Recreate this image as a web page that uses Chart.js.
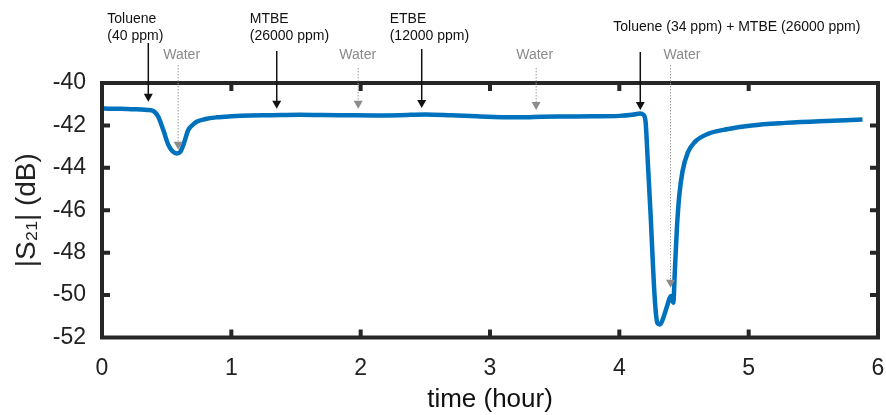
<!DOCTYPE html>
<html>
<head>
<meta charset="utf-8">
<script src="https://cdn.jsdelivr.net/npm/chart.js@4.4.1/dist/chart.umd.min.js"></script>
<style>
html,body{margin:0;padding:0;background:#ffffff;}
#wrap{width:886px;height:415px;position:relative;}
</style>
</head>
<body>
<div id="wrap"><canvas id="c" width="886" height="415"></canvas></div>
<script>
// ---------- data ----------
const timeHours = [
  0.00, 0.05, 0.10, 0.15, 0.20, 0.25, 0.30, 0.35, 0.40, 0.435,
  0.474, 0.513, 0.545, 0.578, 0.605, 0.629, 0.667, 0.70, 0.732, 0.80,
  0.887, 1.00, 1.144, 1.30, 1.531, 1.70, 1.90, 2.10, 2.30, 2.50,
  2.70, 2.90, 3.10, 3.25, 3.40, 3.60, 3.80, 4.00, 4.10, 4.16,
  4.186, 4.203, 4.221, 4.242, 4.26, 4.276, 4.294, 4.314, 4.345, 4.373,
  4.398, 4.417, 4.43, 4.445, 4.464, 4.489, 4.529, 4.581, 4.685, 4.842,
  5.024, 5.285, 5.546, 5.75, 5.88
];
const s21dB = [
  -41.20, -41.21, -41.22, -41.22, -41.23, -41.24, -41.25, -41.27, -41.33, -41.59,
  -42.22, -42.92, -43.22, -43.32, -43.25, -42.92, -42.22, -41.98, -41.83, -41.70,
  -41.62, -41.57, -41.53, -41.52, -41.50, -41.51, -41.52, -41.53, -41.52, -41.48,
  -41.52, -41.57, -41.61, -41.62, -41.59, -41.58, -41.57, -41.55, -41.50, -41.44,
  -41.50, -41.84, -43.83, -46.22, -48.61, -50.36, -51.31, -51.39, -50.99, -50.44,
  -50.04, -50.36, -48.77, -46.86, -45.27, -44.15, -43.28, -42.80, -42.40, -42.17,
  -42.00, -41.88, -41.80, -41.76, -41.72
];
const xTickValues = [0, 1, 2, 3, 4, 5, 6];
const yTickValues = [-40, -42, -44, -46, -48, -50, -52];

// annotations: injected substances (black arrows) and water (grey dotted arrows)
const chemLabels = [["Toluene", "(40 ppm)"], ["MTBE", "(26000 ppm)"], ["ETBE", "(12000 ppm)"], ["Toluene (34 ppm) + MTBE (26000 ppm)"]];
const chemTimes = [0.358, 1.351, 2.472, 4.162];
const chemTipValues = [-40.88, -41.22, -41.18, -41.27];
const waterLabel = "Water";
const waterTimes = [0.585, 1.977, 3.353, 4.392];
const waterTipValues = [-43.15, -41.22, -41.27, -49.65];

// ---------- layout / style of annotations (pixels) ----------
const chemStyle = { textDx: [-41, -27, -32, -27], arrowTop: [43, 51, 49, 52] };
const waterStyle = { textDx: [4, 0, -1, 12], lineTop: [65, 68, 68, 65] };

const FONT = "'Liberation Sans', Arial, Helvetica, sans-serif";

function arrowHead(ctx, x, tipY, color) {
  ctx.fillStyle = color;
  ctx.beginPath();
  ctx.moveTo(x, tipY);
  ctx.lineTo(x - 4.5, tipY - 8);
  ctx.lineTo(x + 4.5, tipY - 8);
  ctx.closePath();
  ctx.fill();
}

const annotationPlugin = {
  id: 'annotations',
  afterDraw(chart) {
    const ctx = chart.ctx;
    const xs = chart.scales.x, ys = chart.scales.y;
    ctx.save();
    ctx.font = "14px " + FONT;
    ctx.textBaseline = 'middle';
    chemLabels.forEach((lines, i) => {
      const px = xs.getPixelForValue(chemTimes[i]);
      const tip = ys.getPixelForValue(chemTipValues[i]);
      ctx.fillStyle = '#111111';
      ctx.textAlign = 'left';
      if (lines.length === 2) {
        ctx.fillText(lines[0], px + chemStyle.textDx[i], 19);
        ctx.fillText(lines[1], px + chemStyle.textDx[i], 36);
      } else {
        ctx.fillText(lines[0], px + chemStyle.textDx[i], 27);
      }
      ctx.strokeStyle = '#111111';
      ctx.lineWidth = 1.5;
      ctx.setLineDash([]);
      ctx.beginPath();
      ctx.moveTo(px, chemStyle.arrowTop[i]);
      ctx.lineTo(px, tip - 7);
      ctx.stroke();
      arrowHead(ctx, px, tip, '#111111');
    });
    waterTimes.forEach((t, i) => {
      const px = xs.getPixelForValue(t);
      const tip = ys.getPixelForValue(waterTipValues[i]);
      ctx.fillStyle = '#8a8a8a';
      ctx.textAlign = 'center';
      ctx.fillText(waterLabel, px + waterStyle.textDx[i], 55);
      ctx.strokeStyle = '#9a9a9a';
      ctx.lineWidth = 1;
      ctx.setLineDash([1.5, 1.5]);
      ctx.beginPath();
      ctx.moveTo(px + 0.5, waterStyle.lineTop[i]);
      ctx.lineTo(px + 0.5, tip - 7);
      ctx.stroke();
      ctx.setLineDash([]);
      arrowHead(ctx, px + 0.5, tip, '#8c8c8c');
    });
    ctx.restore();
  }
};

const framePlugin = {
  id: 'frame',
  afterDatasetsDraw(chart) {
    const { ctx, chartArea: a } = chart;
    const xs = chart.scales.x, ys = chart.scales.y;
    ctx.save();
    ctx.strokeStyle = '#262626';
    ctx.lineWidth = 4;
    ctx.lineCap = 'butt';
    ctx.beginPath();
    xTickValues.forEach(v => {
      const px = xs.getPixelForValue(v);
      if (px <= a.left + 2 || px >= a.right - 2) return;
      ctx.moveTo(px, a.bottom); ctx.lineTo(px, a.bottom - 8);
      ctx.moveTo(px, a.top); ctx.lineTo(px, a.top + 8);
    });
    yTickValues.forEach(v => {
      const py = ys.getPixelForValue(v);
      if (py <= a.top + 2 || py >= a.bottom - 2) return;
      ctx.moveTo(a.left, py); ctx.lineTo(a.left + 8, py);
      ctx.moveTo(a.right, py); ctx.lineTo(a.right - 8, py);
    });
    ctx.stroke();
    ctx.strokeRect(a.left, a.top, a.right - a.left, a.bottom - a.top);
    ctx.restore();
  }
};

const points = timeHours.map((t, i) => ({ x: t, y: s21dB[i] }));

new Chart(document.getElementById('c'), {
  type: 'line',
  data: {
    datasets: [{
      data: points,
      borderColor: '#0072BD',
      borderWidth: 4.5,
      pointRadius: 0,
      fill: false,
      cubicInterpolationMode: 'monotone',
      clip: false
    }]
  },
  options: {
    responsive: false,
    animation: false,
    devicePixelRatio: 1,
    layout: { padding: { top: 83, right: 8, bottom: 0, left: 0 } },
    plugins: { legend: { display: false }, tooltip: { enabled: false } },
    scales: {
      x: {
        type: 'linear', min: 0, max: 6,
        afterBuildTicks: s => { s.ticks = xTickValues.map(v => ({ value: v })); },
        afterFit: s => { s.height = 77.5; s.paddingLeft = 0; s.paddingRight = 0; },
        grid: { display: false, drawTicks: false },
        border: { display: false },
        ticks: { padding: 17, color: '#222222', font: { family: FONT, size: 23 }, maxRotation: 0 },
        title: { display: true, text: 'time (hour)', color: '#111111', font: { family: FONT, size: 26 }, padding: 0 }
      },
      y: {
        type: 'linear', min: -52, max: -40,
        afterBuildTicks: s => { s.ticks = yTickValues.map(v => ({ value: v })); },
        afterFit: s => { s.width = 102; s.paddingTop = 0; s.paddingBottom = 0; },
        grid: { display: false, drawTicks: false },
        border: { display: false },
        ticks: { padding: 16, color: '#222222', font: { family: FONT, size: 23 } },
        title: { display: true, text: '|S₂₁| (dB)', color: '#222222', font: { family: FONT, size: 28 }, padding: { top: 10, bottom: 0 } }
      }
    }
  },
  plugins: [framePlugin, annotationPlugin]
});
</script>
</body>
</html>
